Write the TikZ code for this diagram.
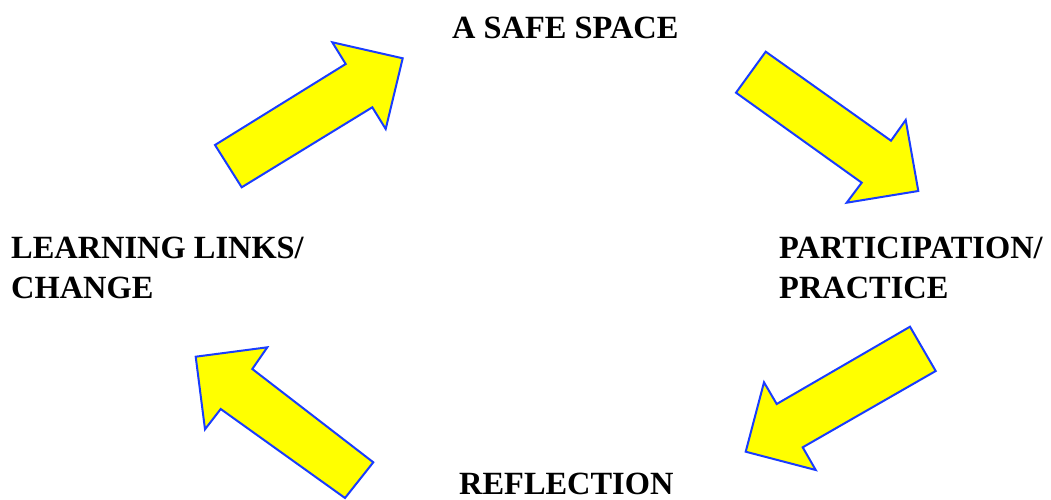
\documentclass[tikz,border=0pt]{standalone}
\usepackage{fontspec}
\setmainfont{Liberation Serif}
\definecolor{arrfill}{RGB}{255,255,0}
\definecolor{arrline}{RGB}{25,60,255}
\begin{document}
\begin{tikzpicture}[x=1pt,y=-1pt,
  bigarrow/.style={fill=arrfill,draw=arrline,line width=2pt,line join=miter},
  lbl/.style={anchor=base west,inner sep=0pt,font=\fontsize{32.4}{40}\selectfont\bfseries,align=left}]
\useasboundingbox (0,0) rectangle (1051,500);
% labels
\node[lbl] (safe) at (452,39) {A SAFE SPACE};
\node[lbl] (learn) at (11,298) {LEARNING LINKS/\\CHANGE};
\node[lbl] (part) at (779,298) {PARTICIPATION/\\PRACTICE};
\node[lbl] (refl) at (459,494) {REFLECTION};
% arrows
\draw[bigarrow] (215,145) -- (345.7,64) -- (332.3,42.3) -- (402.7,58.3) -- (385.7,129) -- (372.3,107.3) -- (241.7,187.3) -- cycle;
\draw[bigarrow] (765.7,51.7) -- (891,140.7) -- (905.7,120) -- (918.3,191) -- (846.7,202.7) -- (861.7,182.7) -- (736,92.7) -- cycle;
\draw[bigarrow] (910,326.7) -- (776.7,404) -- (764,382.3) -- (745.7,451.7) -- (815.7,470) -- (802.7,447.3) -- (935.7,371) -- cycle;
\draw[bigarrow] (373.3,462.3) -- (252.3,369) -- (267.3,347.3) -- (195.7,356.7) -- (205,429.3) -- (220.7,409) -- (345,498) -- cycle;
\end{tikzpicture}
\end{document}
